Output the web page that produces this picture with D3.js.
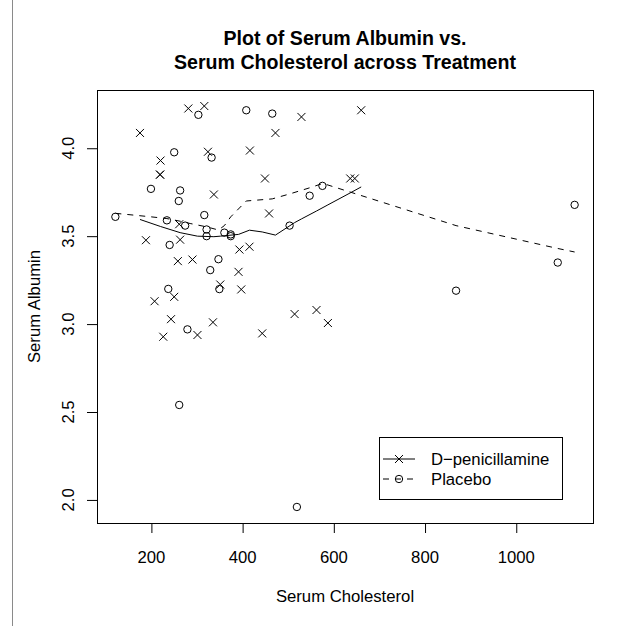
<!DOCTYPE html>
<html>
<head>
<meta charset="utf-8">
<script src="https://cdn.jsdelivr.net/npm/d3@7"></script>
<style>
  body { margin: 0; background: #fff; }
  svg text { font-family: "Liberation Sans", Arial, Helvetica, sans-serif; fill: #000; }
</style>
</head>
<body>
<div id="chart"></div>
<script>
// D-penicillamine group (x marks)
const dpenChol = [281, 316, 175, 324, 220, 219, 219, 337, 261, 188, 263, 258, 290, 351, 250, 207, 243, 301,
                  335, 226, 393, 415, 391, 397, 514, 562, 587, 443, 529, 660, 472, 416, 449, 636, 646, 458];
const dpenAlb  = [4.226, 4.24, 4.087, 3.98, 3.93, 3.85, 3.85, 3.737, 3.568, 3.477, 3.48, 3.358, 3.367, 3.225,
                  3.155, 3.13, 3.028, 2.938, 3.01, 2.928, 3.424, 3.44, 3.297, 3.197, 3.057, 3.08, 3.006, 2.947,
                  4.178, 4.216, 4.087, 3.987, 3.828, 3.828, 3.828, 3.629];

// Placebo group (circles)
const placeboChol = [303, 250, 332, 199, 263, 260, 121, 234, 316, 274, 321, 321, 360, 374, 374, 240, 347, 329,
                     349, 237, 279, 408, 465, 575, 547, 503, 261, 519, 1128, 1091, 868];
const placeboAlb  = [4.19, 3.977, 3.947, 3.769, 3.76, 3.70, 3.61, 3.59, 3.62, 3.56, 3.538, 3.50, 3.52, 3.51,
                     3.50, 3.45, 3.369, 3.307, 3.199, 3.20, 2.97, 4.216, 4.197, 3.786, 3.73, 3.56, 2.54, 1.96,
                     3.678, 3.35, 3.19];

// smoothed (lowess) curves
const dpenCurveChol = [175, 220, 263, 301, 337, 351, 391, 415, 443, 472, 514, 529, 562, 587, 636, 660];
const dpenCurveAlb  = [3.595, 3.555, 3.52, 3.50, 3.497, 3.50, 3.51, 3.534, 3.524, 3.506, 3.577, 3.598, 3.643,
                       3.678, 3.746, 3.78];
const placeboCurveChol = [121, 199, 234, 263, 285, 321, 347, 360, 374, 408, 465, 503, 547, 576, 868, 1091, 1128];
const placeboCurveAlb  = [3.63, 3.61, 3.60, 3.585, 3.572, 3.553, 3.535, 3.56, 3.61, 3.70, 3.712, 3.74, 3.775,
                          3.80, 3.56, 3.43, 3.41];

const xTicks = [200, 400, 600, 800, 1000];
const yTicks = [2.0, 2.5, 3.0, 3.5, 4.0];
const groups = ['D\u2212penicillamine', 'Placebo'];

const width = 624, height = 626;
const margin = {top: 90, right: 31, bottom: 103, left: 97};

const svg = d3.select('#chart')
    .append('svg')
    .attr('width', width)
    .attr('height', height);

svg.append('rect').attr('width', width).attr('height', height).attr('fill', '#fff');

// thin frame line on the left edge of the figure
svg.append('line')
    .attr('x1', 12.5).attr('x2', 12.5)
    .attr('y1', 0).attr('y2', height)
    .attr('stroke', '#8a8a8a')
    .attr('stroke-width', 1);

// R style: extend the data range by 4% on each side
function padded(vals) {
    const [a, b] = d3.extent(vals);
    const r = b - a;
    return [a - 0.04 * r, b + 0.04 * r];
}

const x = d3.scaleLinear()
    .domain(padded(dpenChol.concat(placeboChol)))
    .range([margin.left, width - margin.right]);
const y = d3.scaleLinear()
    .domain(padded(dpenAlb.concat(placeboAlb)))
    .range([height - margin.bottom, margin.top]);

const xAxis = svg.append('g')
    .attr('transform', `translate(0,${height - margin.bottom})`)
    .call(d3.axisBottom(x).tickValues(xTicks).tickSize(10).tickFormat(''));
const yAxis = svg.append('g')
    .attr('transform', `translate(${margin.left},0)`)
    .call(d3.axisLeft(y).tickValues(yTicks).tickSize(10).tickFormat(''));
xAxis.select('.domain').remove();
yAxis.select('.domain').remove();
svg.selectAll('.tick line').attr('stroke', '#000').attr('stroke-width', 1);

svg.append('g').selectAll('text')
    .data(xTicks)
    .join('text')
    .attr('x', d => x(d))
    .attr('y', height - margin.bottom + 40)
    .attr('text-anchor', 'middle')
    .attr('font-size', 16.7)
    .text(d => d);

svg.append('g').selectAll('text')
    .data(yTicks)
    .join('text')
    .attr('transform', d => `translate(${margin.left - 23},${y(d)}) rotate(-90)`)
    .attr('text-anchor', 'middle')
    .attr('font-size', 16.7)
    .text(d => d3.format('.1f')(d));

// plot box
svg.append('rect')
    .attr('x', margin.left + 0.5)
    .attr('y', margin.top + 0.5)
    .attr('width', width - margin.left - margin.right)
    .attr('height', height - margin.top - margin.bottom)
    .attr('fill', 'none')
    .attr('stroke', '#000')
    .attr('stroke-width', 1);

// titles
const title = svg.append('text')
    .attr('text-anchor', 'middle')
    .attr('font-size', 19.6)
    .attr('font-weight', 'bold');
title.append('tspan').attr('x', (margin.left + width - margin.right) / 2).attr('y', 45).text('Plot of Serum Albumin vs.');
title.append('tspan').attr('x', (margin.left + width - margin.right) / 2).attr('y', 69).text('Serum Cholesterol across Treatment');

svg.append('text')
    .attr('x', (margin.left + width - margin.right) / 2)
    .attr('y', height - margin.bottom + 79)
    .attr('text-anchor', 'middle')
    .attr('font-size', 16.7)
    .text('Serum Cholesterol');

svg.append('text')
    .attr('transform', `translate(${margin.left - 57},${(margin.top + height - margin.bottom) / 2}) rotate(-90)`)
    .attr('text-anchor', 'middle')
    .attr('font-size', 16.7)
    .text('Serum Albumin');

// smooth curves
const line = d3.line().x(d => x(d[0])).y(d => y(d[1]));
svg.append('path')
    .datum(d3.zip(dpenCurveChol, dpenCurveAlb))
    .attr('d', line)
    .attr('fill', 'none')
    .attr('stroke', '#000')
    .attr('stroke-width', 1);
svg.append('path')
    .datum(d3.zip(placeboCurveChol, placeboCurveAlb))
    .attr('d', line)
    .attr('fill', 'none')
    .attr('stroke', '#000')
    .attr('stroke-width', 1)
    .attr('stroke-dasharray', '6,6');

// points
const crossPath = 'M-4,-4L4,4M-4,4L4,-4';
svg.append('g').selectAll('path')
    .data(d3.zip(dpenChol, dpenAlb))
    .join('path')
    .attr('transform', d => `translate(${x(d[0])},${y(d[1])})`)
    .attr('d', crossPath)
    .attr('stroke', '#000')
    .attr('stroke-width', 1)
    .attr('fill', 'none');

svg.append('g').selectAll('circle')
    .data(d3.zip(placeboChol, placeboAlb))
    .join('circle')
    .attr('cx', d => x(d[0]))
    .attr('cy', d => y(d[1]))
    .attr('r', 3.7)
    .attr('stroke', '#000')
    .attr('stroke-width', 1)
    .attr('fill', 'none');

// legend
const lg = svg.append('g').attr('transform', 'translate(379,437)');
lg.append('rect')
    .attr('x', 0.5).attr('y', 0.5)
    .attr('width', 183).attr('height', 62)
    .attr('fill', '#fff')
    .attr('stroke', '#000');
const rows = lg.selectAll('g.row')
    .data(groups)
    .join('g')
    .attr('class', 'row')
    .attr('transform', (d, i) => `translate(0,${22 + i * 20})`);
rows.append('line')
    .attr('x1', 4).attr('x2', 36)
    .attr('stroke', '#000')
    .attr('stroke-dasharray', (d, i) => i === 0 ? null : '6,6');
rows.filter((d, i) => i === 0).append('path')
    .attr('transform', 'translate(20,0)')
    .attr('d', crossPath)
    .attr('stroke', '#000');
rows.filter((d, i) => i === 1).append('circle')
    .attr('cx', 20).attr('r', 3.7)
    .attr('fill', 'none')
    .attr('stroke', '#000');
rows.append('text')
    .attr('x', 52)
    .attr('dy', '0.35em')
    .attr('font-size', 16.7)
    .text(d => d);
</script>
</body>
</html>
